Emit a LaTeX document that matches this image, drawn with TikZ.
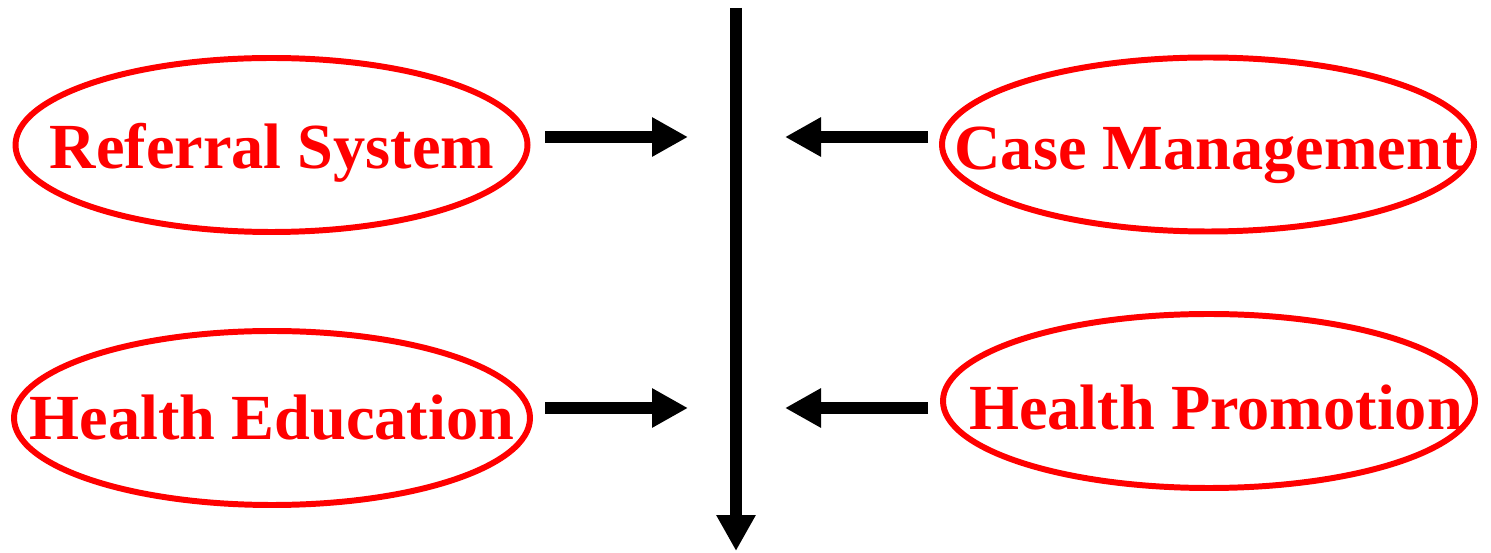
\documentclass[tikz,border=0pt]{standalone}
\usepackage{fontspec}
\setmainfont{Liberation Serif}
\usetikzlibrary{arrows.meta}

\begin{document}
\begin{tikzpicture}[
  x=0.02cm, y=-0.02cm,
  every node/.style={inner sep=0pt, anchor=base, text=red,
    font=\fontsize{36.6}{40}\selectfont\bfseries},
  oval/.style={draw=red, line width=3.4pt},
  feed/.style={line width=6.8pt, -{Triangle[length=0.72cm, width=0.74cm]}}]
\useasboundingbox (0,0) rectangle (1491,553);
% labels, ovals drawn round them
\node (referral) at (272,169) {Referral System};
\node (education) at (272,440) {Health Education};
\node (casemgmt) at (1209,170) {Case Management};
\node (promotion) at (1216,430) {Health Promotion};
\draw[oval] (271.5,145) ellipse [x radius=256, y radius=87];
\draw[oval] (272,418) ellipse [x radius=258, y radius=87];
\draw[oval] (1208,144.5) ellipse [x radius=266, y radius=87];
\draw[oval] (1209,401) ellipse [x radius=266, y radius=87];
% main axis
\coordinate (top) at (736,8);
\coordinate (bottom) at (736,551);
\draw[feed] (top) -- (bottom);
% side arrows
\coordinate (rsA) at (545,137);  \coordinate (rsB) at (688,137);
\coordinate (heA) at (545,408);  \coordinate (heB) at (688,408);
\coordinate (cmA) at (928,137);  \coordinate (cmB) at (785,137);
\coordinate (hpA) at (928,408);  \coordinate (hpB) at (785,408);
\draw[feed] (rsA) -- (rsB);
\draw[feed] (heA) -- (heB);
\draw[feed] (cmA) -- (cmB);
\draw[feed] (hpA) -- (hpB);
\end{tikzpicture}
\end{document}
